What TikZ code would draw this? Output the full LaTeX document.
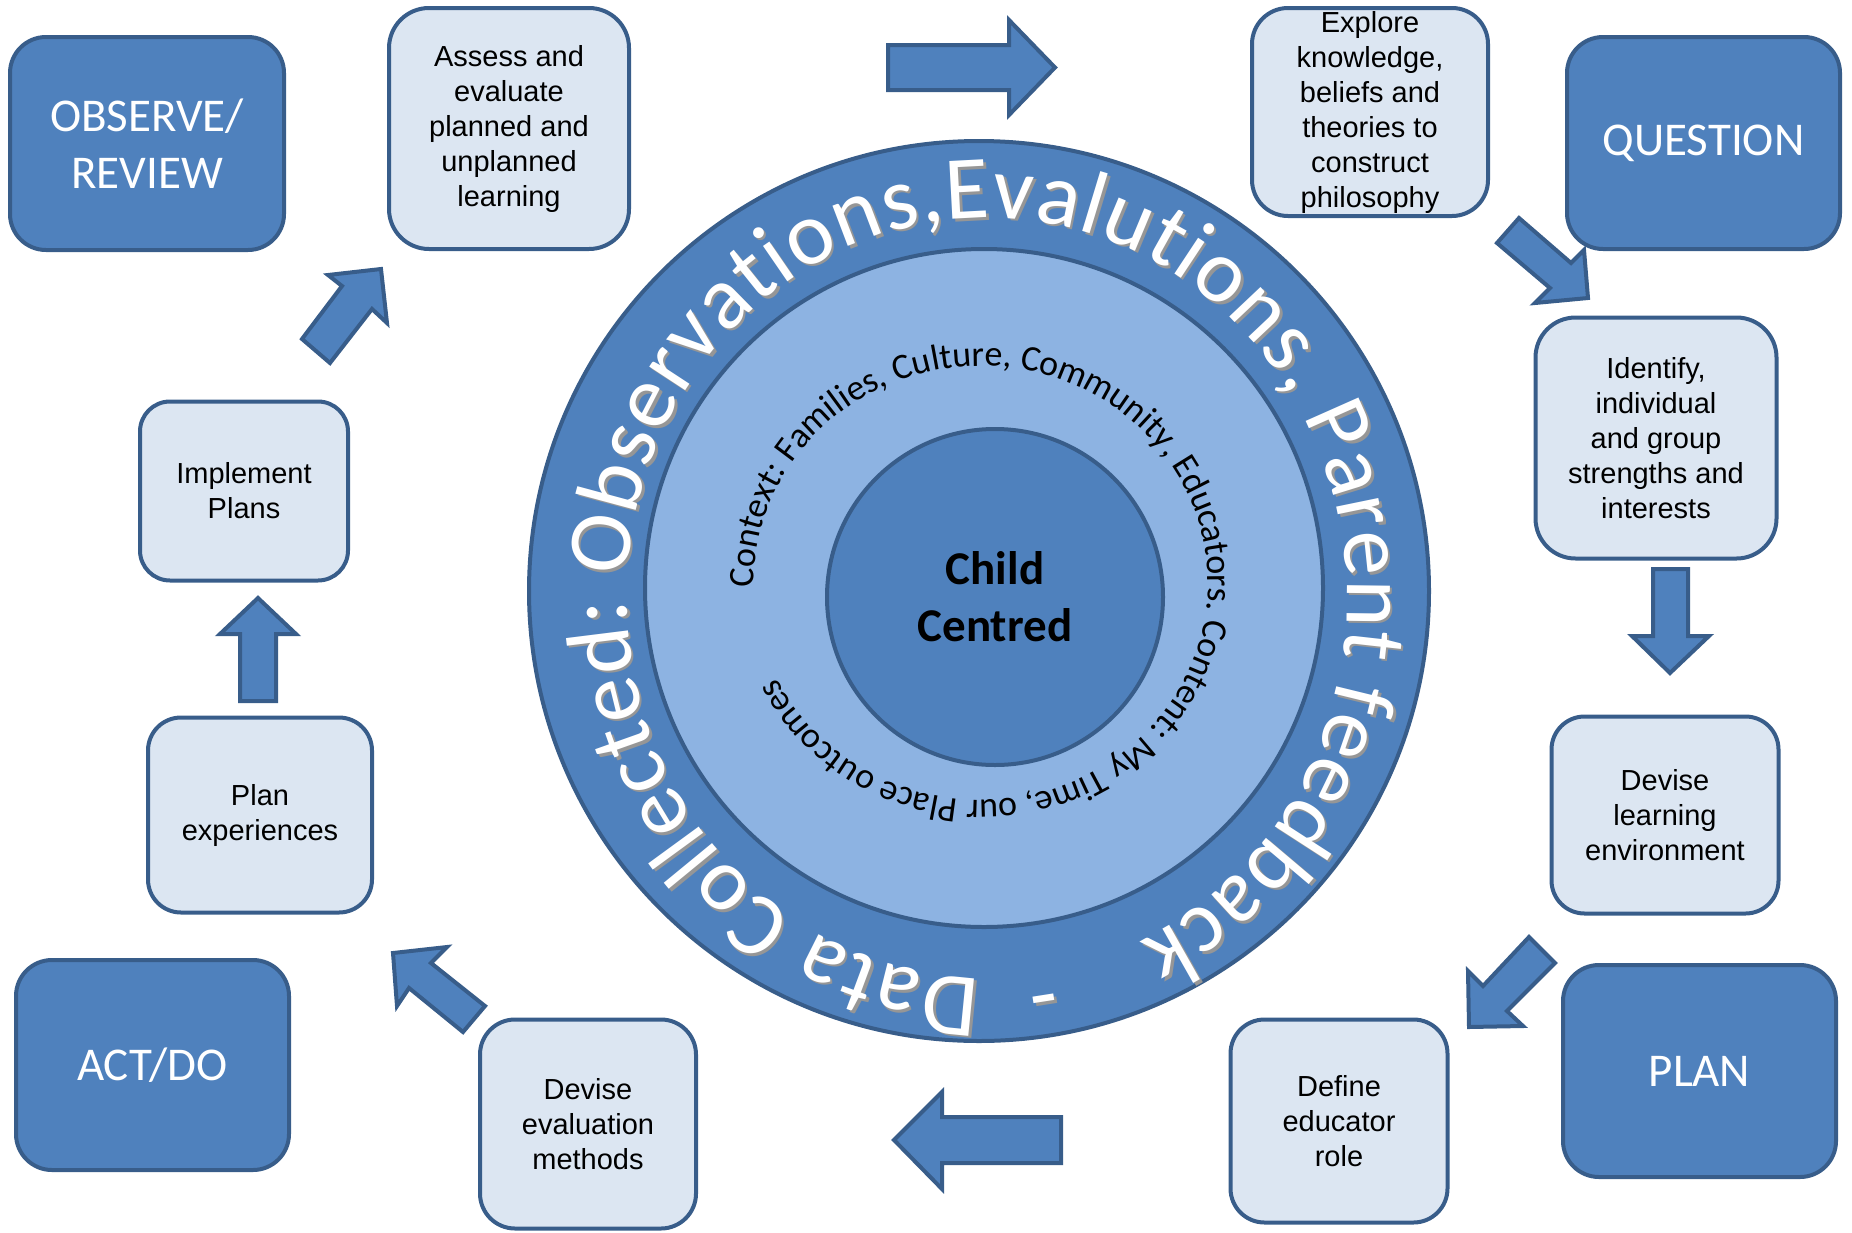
\documentclass[tikz,border=0pt]{standalone}
\usepackage{fontspec}
\setmainfont{Liberation Sans}
\newfontfamily\carlito{Carlito}
\usetikzlibrary{decorations.text}
\definecolor{darkfill}{RGB}{79,129,189}
\definecolor{edge}{RGB}{56,93,138}
\definecolor{lightfill}{RGB}{220,230,242}
\definecolor{midfill}{RGB}{141,179,226}
\definecolor{shadowgray}{RGB}{150,150,150}
\newcommand\ringfont{\carlito\fontsize{45pt}{50pt}\selectfont}
\newcommand\ctxfont{\carlito\fontsize{18pt}{21pt}\selectfont}
\begin{document}
\begin{tikzpicture}[x=0.5pt,y=-0.5pt,
  lightbox/.style={draw=edge, line width=2pt, fill=lightfill, rounded corners=18pt, align=center, inner sep=0pt, font=\fontsize{14.5pt}{17.5pt}\selectfont, text=black},
  darkbox/.style={draw=edge, line width=2pt, fill=darkfill, rounded corners=18pt, align=center, inner sep=0pt, font=\carlito\fontsize{23.5pt}{28.5pt}\selectfont, text=white},
  blockarrow/.style={draw=edge, line width=2pt, fill=darkfill, line join=miter},
  disc/.style={circle, draw=edge, line width=2pt, inner sep=0pt}
]
\useasboundingbox (0,0) rectangle (1852,1232);

% concentric discs
\node[disc, fill=darkfill, minimum size=450pt] (ring) at (979,591) {};
\node[disc, fill=midfill, minimum size=339pt] (mid) at (984,588) {};
\node[disc, fill=darkfill, minimum size=168pt, text=black, align=center,
      font=\carlito\bfseries\fontsize{23.5pt}{28.5pt}\selectfont] (core) at (995,597) {Child\\Centred};

% outer ring text (shadow + white)
\path[shift={(2.5,2.5)}, decorate, decoration={text along path, text align={fit to path},
   text={|\ringfont\color{shadowgray}|Data Collected: Observations,Evalutions, Parent feedback}}]
  ({987+360*cos(91)},{598+380*sin(91)}) arc[start angle=91, end angle=425, x radius=360, y radius=380];
\path[decorate, decoration={text along path, text align={fit to path},
   text={|\ringfont\color{white}|Data Collected: Observations,Evalutions, Parent feedback}}]
  ({987+360*cos(91)},{598+380*sin(91)}) arc[start angle=91, end angle=425, x radius=360, y radius=380];
\path[shift={(2.5,2.5)}, decorate, decoration={text along path, text align=center,
   text={|\ringfont\color{shadowgray}|-}}]
  ({987+360*cos(76)},{598+380*sin(76)}) arc[start angle=76, end angle=87, x radius=360, y radius=380];
\path[decorate, decoration={text along path, text align=center,
   text={|\ringfont\color{white}|-}}]
  ({987+360*cos(76)},{598+380*sin(76)}) arc[start angle=76, end angle=87, x radius=360, y radius=380];

% middle ring text (path runs through mid-height of the letters)
\path[decorate, decoration={text along path, text align={fit to path}, raise=-5pt,
   text={|\ctxfont\color{black}|Context: Families, Culture, Community, Educators. Content: My Time, our Place outcomes}}]
  ({981+237*cos(179)},{583+227*sin(179)}) arc[start angle=179, end angle=514, x radius=237, y radius=227];

% block arrows
\draw[blockarrow] (888,45) -- (1009,45) -- (1009,20) -- (1055,67.5) -- (1009,115) -- (1009,90) -- (888,90) -- cycle;
\draw[blockarrow] (1519,218) -- (1571,263) -- (1584,250) -- (1588,298) -- (1535,303) -- (1550,288) -- (1497,243) -- cycle;
\draw[blockarrow] (1653,569) -- (1688,569) -- (1688,636) -- (1709,636) -- (1670,673) -- (1632,636) -- (1653,636) -- cycle;
\draw[blockarrow] (1529,937) -- (1555,963) -- (1507,1011) -- (1523,1026) -- (1469,1027) -- (1468,971) -- (1483,986) -- cycle;
\draw[blockarrow] (894,1140) -- (942,1092) -- (942,1117) -- (1061,1117) -- (1061,1163) -- (942,1163) -- (942,1189) -- cycle;
\draw[blockarrow] (393,953) -- (447,947) -- (431,963) -- (485,1006) -- (463,1032) -- (409,988) -- (397,1006) -- cycle;
\draw[blockarrow] (240,701) -- (240,634) -- (220,634) -- (258,598) -- (296,634) -- (276,634) -- (276,701) -- cycle;
\draw[blockarrow] (302,339) -- (342,286) -- (328,275) -- (381,269) -- (387,323) -- (372,309) -- (330,363) -- cycle;

% light boxes
\node[lightbox, minimum width=120pt, minimum height=120.5pt, rounded corners=20pt] (assess) at (509,128.5) {Assess and\\evaluate\\planned and\\unplanned\\learning};
\node[lightbox, minimum width=118pt, minimum height=104pt] (explore) at (1370,112) {Explore\\knowledge,\\beliefs and\\theories to\\construct\\philosophy};
\node[lightbox, minimum width=120.5pt, minimum height=120.5pt, rounded corners=20pt] (identify) at (1656,438) {Identify,\\individual\\and group\\strengths and\\interests};
\node[lightbox, minimum width=113.5pt, minimum height=98.5pt, rounded corners=16.5pt] (deviseenv) at (1665,815) {Devise\\learning\\environment};
\node[lightbox, minimum width=108.5pt, minimum height=101.5pt, rounded corners=17pt] (define) at (1339,1121) {Define\\educator\\role};
\node[lightbox, minimum width=108pt, minimum height=104.5pt, rounded corners=17.5pt] (deviseeval) at (588,1124) {Devise\\evaluation\\methods};
\node[lightbox, minimum width=112pt, minimum height=97.5pt, rounded corners=16.5pt] (planexp) at (260,815) {Plan\\experiences};
\node[lightbox, minimum width=104pt, minimum height=89.5pt, rounded corners=15pt] (implement) at (244,491) {Implement\\Plans};

% dark boxes
\node[darkbox, minimum width=137pt, minimum height=106.5pt] (observe) at (147,143.5) {OBSERVE/\\REVIEW};
\node[darkbox, minimum width=136.5pt, minimum height=106pt] (question) at (1703.5,143) {QUESTION};
\node[darkbox, minimum width=136.5pt, minimum height=106pt] (plan) at (1699.5,1071) {PLAN};
\node[darkbox, minimum width=136.5pt, minimum height=105pt] (act) at (152.5,1065) {ACT/DO};
\end{tikzpicture}
\end{document}
